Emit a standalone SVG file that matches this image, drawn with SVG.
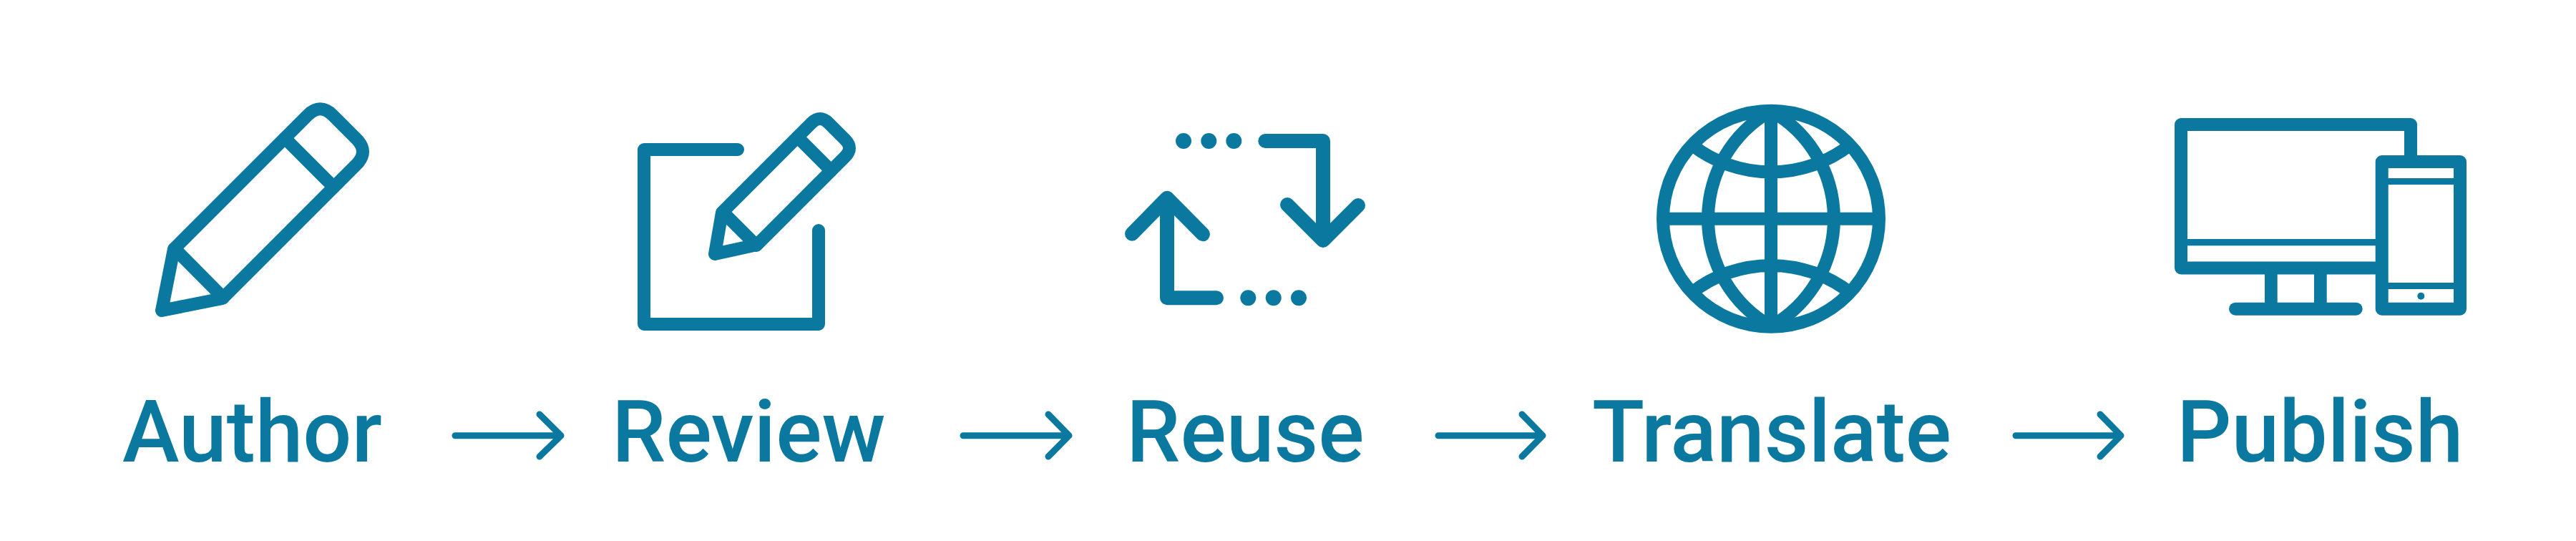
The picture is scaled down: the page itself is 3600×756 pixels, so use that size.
<svg xmlns="http://www.w3.org/2000/svg" width="3600" height="756" viewBox="0 0 3600 756">
<style>
.i{fill:none;stroke:#0b799f;stroke-width:18;stroke-linejoin:round;stroke-linecap:round}
.b{fill:none;stroke:#0b799f;stroke-width:18;stroke-linejoin:round;stroke-linecap:butt}
.r{fill:none;stroke:#0b799f;stroke-width:20;stroke-linejoin:round;stroke-linecap:round}
.f{fill:#0b799f}
.t{fill:#0b799f;font-family:Roboto,"Liberation Sans",sans-serif;font-weight:500;font-size:120px}
.c{fill:none;stroke:#0b799f;stroke-width:9;stroke-linejoin:round;stroke-linecap:round}
</style>
<g id="author">
<path class="i" d="M243,348 L430,161 Q447.5,143.5 465,161 L498,194 Q516,212 498,230 L311,417 L226,434 Z"/>
<path class="i" d="M398,193 L466.5,261.5 M243.75,347.25 L312,416"/>
<text class="t" x="171" y="645">Author</text>
</g>
<g id="review">
<path class="i" d="M1031,209 H900 V453 H1144 V322"/>
<path class="i" d="M1009,297 L1134,172 Q1146,160 1158,172 L1181,195 Q1193,207 1181,219 L1058,342 L999,355 Z"/>
<path class="i" d="M1114.5,191.5 L1161.5,238.5 M1010,296 L1057,343"/>
<text class="t" x="855" y="645">Review</text>
</g>
<g id="reuse">
<path class="r" d="M1768.3,197 H1849 V336 M1799,286 L1849,336 L1898,287"/>
<path class="r" d="M1700,416.3 H1631 V276.7 M1582,326.7 L1631,276.7 L1681,327.3"/>
<circle class="f" cx="1654" cy="197" r="11"/><circle class="f" cx="1689.3" cy="197" r="11"/><circle class="f" cx="1724.3" cy="197" r="11"/>
<circle class="f" cx="1744.3" cy="416.3" r="11"/><circle class="f" cx="1779.7" cy="416.3" r="11"/><circle class="f" cx="1815" cy="416.3" r="11"/>
<text class="t" x="1574" y="645">Reuse</text>
</g>
<g id="translate">
<circle class="b" cx="2475" cy="305.7" r="151"/>
<path class="b" d="M2475,155 V456 M2324,305.7 H2626 M2475,155 A172.7,172.7 0 0 0 2475,456 M2475,155 A172.7,172.7 0 0 1 2475,456 M2365,203 A180,180 0 0 0 2585,203 M2365,408.4 A180,180 0 0 1 2585,408.4"/>
<text class="t" x="2225" y="645">Translate</text>
</g>
<g id="publish">
<path class="i" d="M3319,374.5 H3048 V174 H3369 V217"/>
<rect class="i" x="3328.7" y="226" width="109.3" height="205.7"/>
<rect class="f" x="3056" y="334" width="264" height="9.3"/>
<rect class="f" x="3337" y="249" width="92" height="9"/>
<rect class="f" x="3337" y="395" width="92" height="9"/>
<circle class="f" cx="3383.3" cy="413.7" r="5"/>
<rect class="f" x="3165" y="380" width="17.7" height="45"/>
<rect class="f" x="3234" y="380" width="17.7" height="45"/>
<path class="i" d="M3124,431.7 H3292.7"/>
<text class="t" x="3042" y="645">Publish</text>
</g>
<g id="connectors">
<path class="c" d="M636,608.7 H784 M754,579 L784,608.7 L754,638"/>
<path class="c" d="M1346,608.7 H1494 M1465,579 L1494,608.7 L1465,638"/>
<path class="c" d="M2010,608.7 H2156 M2127,579 L2156,608.7 L2127,638"/>
<path class="c" d="M2817,608.7 H2964 M2935,579 L2964,608.7 L2935,638"/>
</g>
</svg>
